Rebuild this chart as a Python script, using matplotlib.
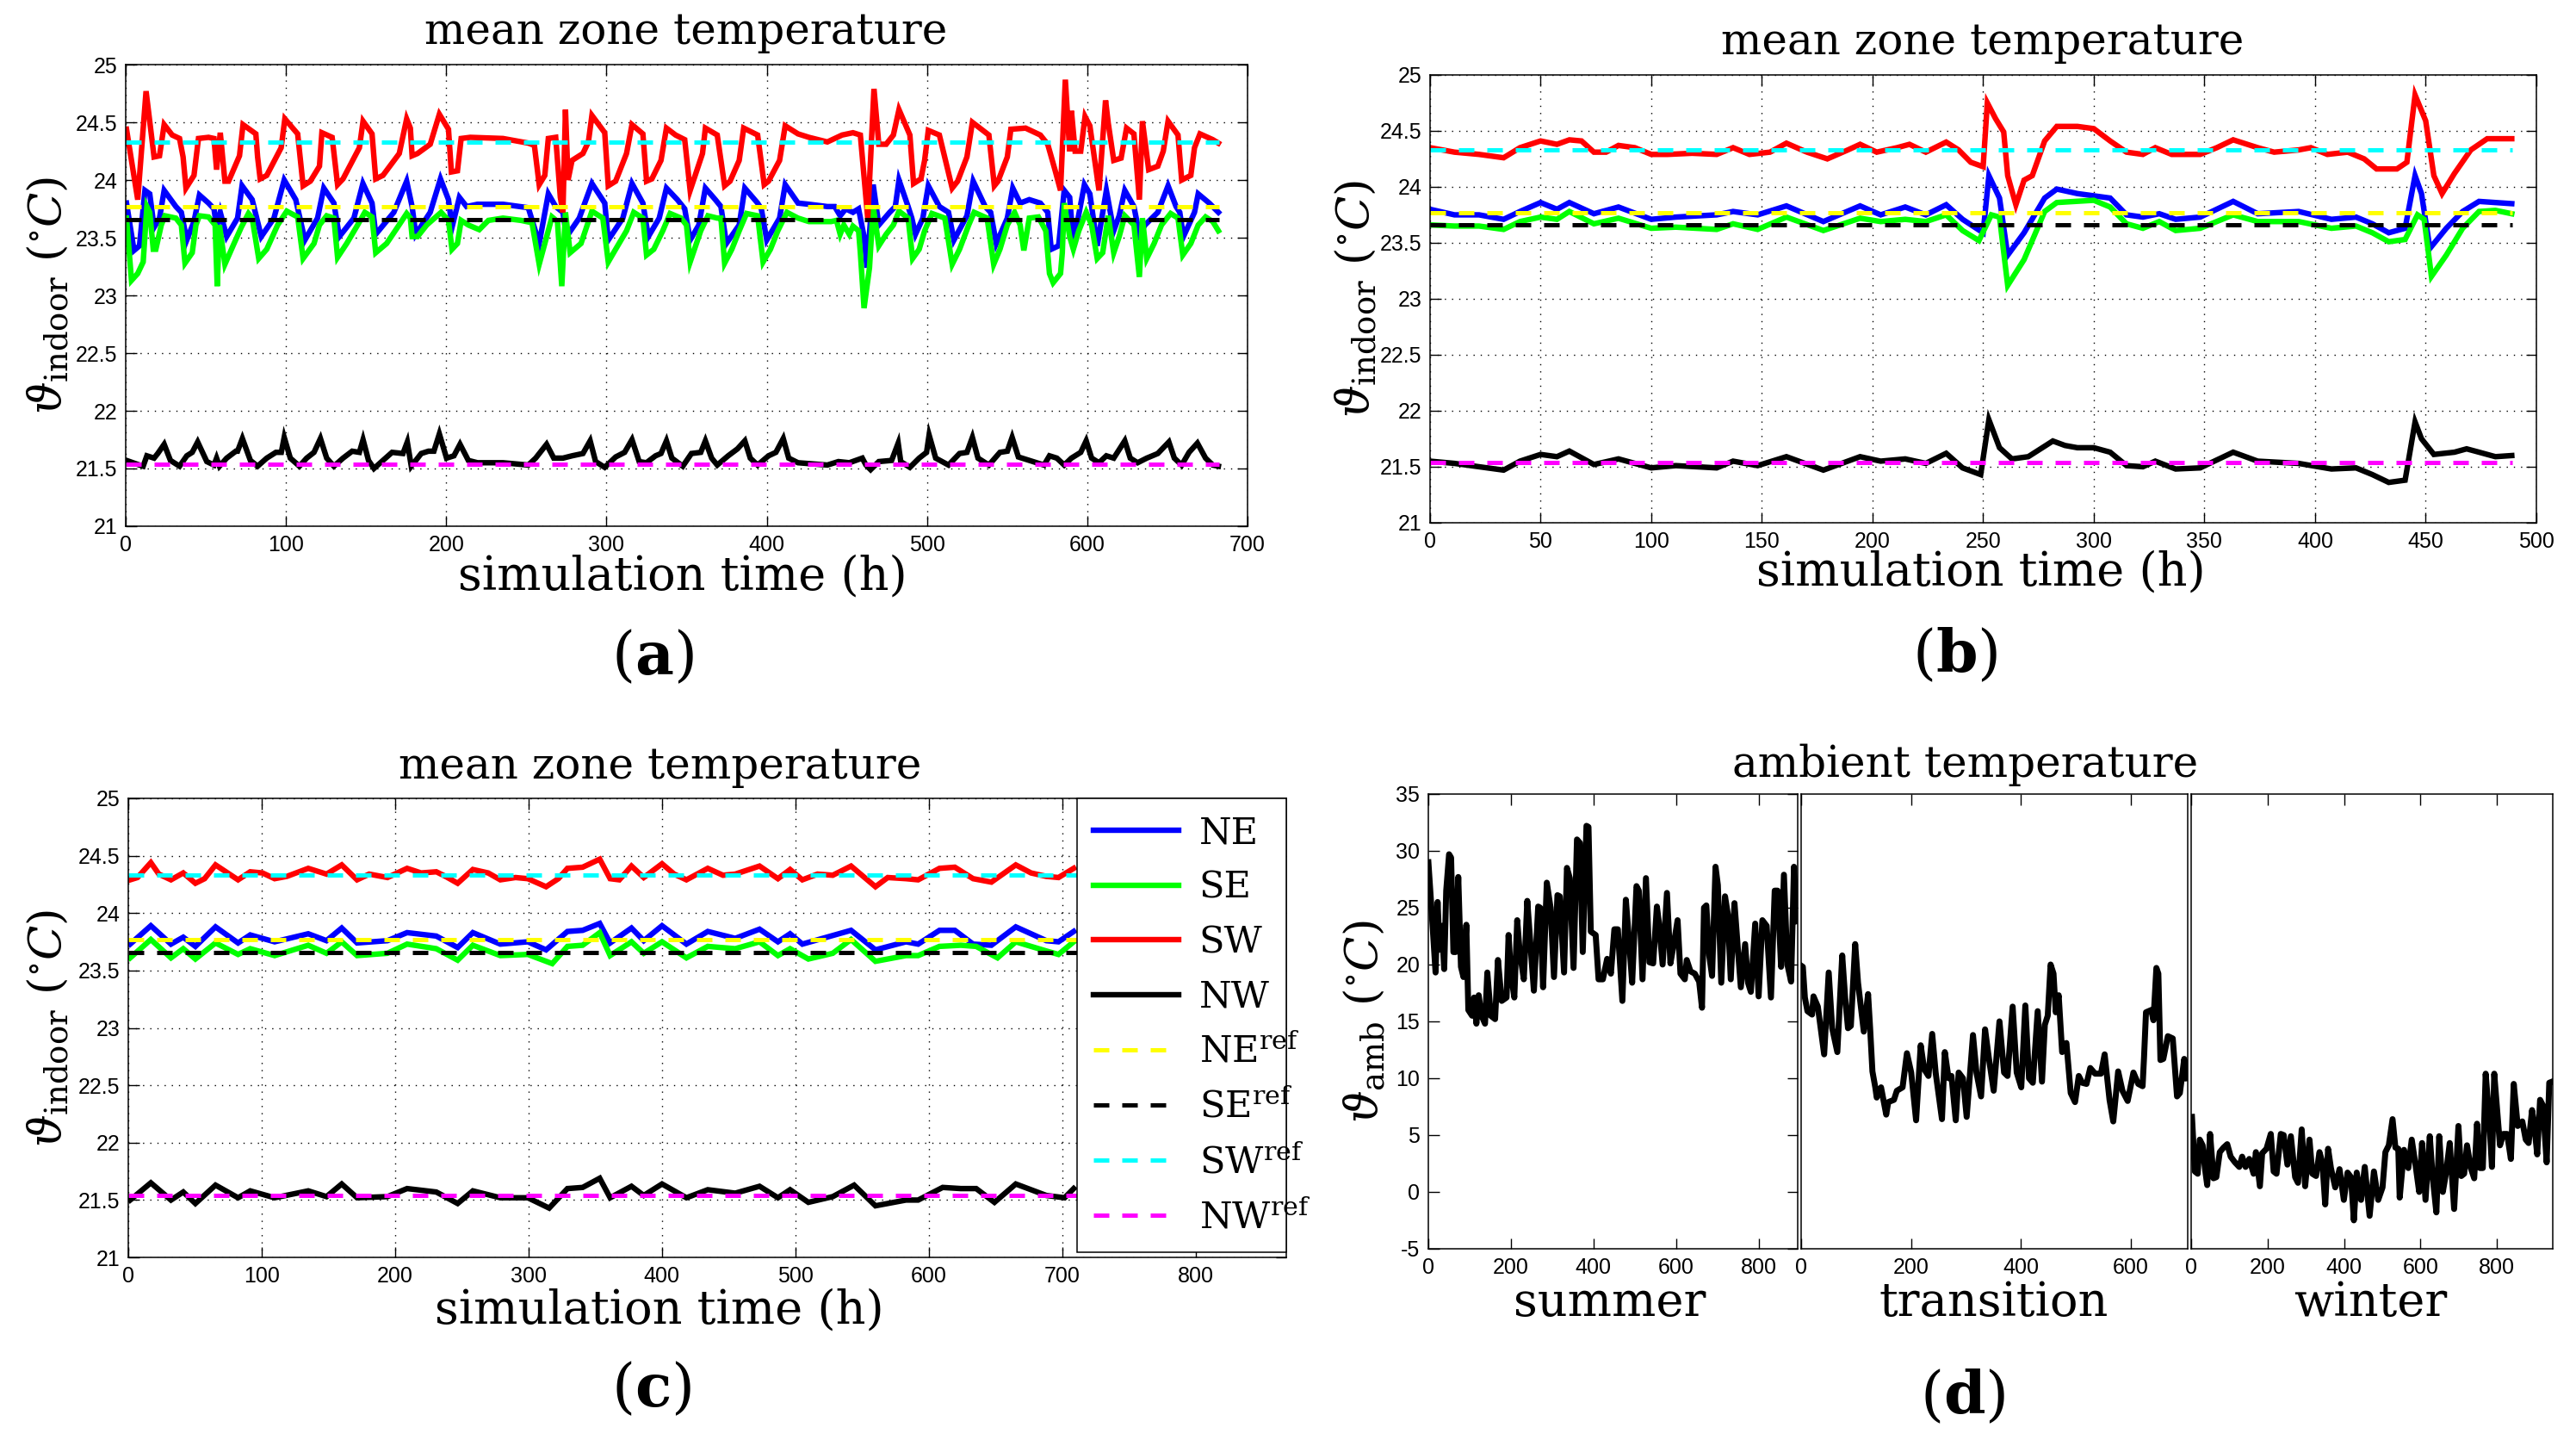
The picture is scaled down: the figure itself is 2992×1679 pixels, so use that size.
import matplotlib.pyplot as plt
from matplotlib.lines import Line2D

# ---------------------------------------------------------------------------
# values: (simulation time in h, temperature)
# ---------------------------------------------------------------------------

zone_names = ["NE", "SE", "SW", "NW"]
ref_levels = [23.77, 23.66, 24.33, 21.54]      # NE_ref, SE_ref, SW_ref, NW_ref

# panel (a)
a_end = 682
a_ne = [(0.5, 23.8), (5.2, 23.39), (8.6, 23.43), (12, 23.91), (15, 23.88), (17.7, 23.59), (21.1, 23.67),
        (24, 23.91), (31.3, 23.77), (34.7, 23.72), (38.1, 23.48), (42.6, 23.64), (46, 23.87), (51.7, 23.8),
        (55.1, 23.75), (56.7, 23.59), (59, 23.72), (63, 23.51), (69.8, 23.67), (72.6, 23.95), (78.9, 23.83),
        (84.6, 23.51), (92.5, 23.67), (98.9, 24.0), (106.1, 23.83), (111.8, 23.48), (119.7, 23.67),
        (123.6, 23.93), (129.9, 23.8), (133.3, 23.51), (142.4, 23.67), (148, 23.97), (153.7, 23.8),
        (156, 23.53), (167.3, 23.72), (175.3, 23.99), (178.7, 23.77), (181, 23.53), (190, 23.72),
        (196.4, 24.01), (201.4, 23.83), (203.6, 23.59), (208.2, 23.85), (212.7, 23.77), (219.5, 23.79),
        (235.4, 23.79), (251.2, 23.76), (258, 23.45), (263.7, 23.88), (268.3, 23.77), (272.8, 23.72),
        (275.1, 23.51), (283, 23.67), (290.9, 23.97), (298.9, 23.8), (301.1, 23.48), (310.2, 23.67),
        (315.9, 23.97), (322.7, 23.8), (326.1, 23.51), (332.9, 23.67), (337.4, 23.93), (344.2, 23.83),
        (348.8, 23.75), (352.2, 23.48), (357.6, 23.61), (361.7, 23.93), (367.9, 23.83), (371.4, 23.77),
        (374.8, 23.45), (382.8, 23.61), (386.3, 23.93), (394.3, 23.8), (396.6, 23.75), (400, 23.48),
        (408, 23.67), (411.5, 23.96), (419.5, 23.8), (426.3, 23.79), (437.8, 23.77), (442.4, 23.77),
        (445.8, 23.69), (449.3, 23.75), (453.8, 23.72), (457.3, 23.75), (460.7, 23.51), (462.5, 23.24),
        (466.4, 23.96), (469.9, 23.61), (476.7, 23.72), (480.2, 23.77), (482.5, 24.0), (488.2, 23.77),
        (490.5, 23.67), (492.8, 23.53), (497.4, 23.67), (500.8, 23.95), (507.7, 23.77), (513.4, 23.72),
        (516.8, 23.48), (524.9, 23.69), (528.8, 23.99), (536.3, 23.77), (539.7, 23.72), (543.2, 23.45),
        (550.1, 23.67), (553.5, 23.93), (558.1, 23.8), (563.8, 23.83), (570.7, 23.8), (575.3, 23.72),
        (577.5, 23.4), (582.1, 23.43), (585.6, 23.91), (589, 23.85), (591.3, 23.45), (598.2, 23.96),
        (601.6, 23.88), (606.2, 23.43), (611.9, 23.91), (616.5, 23.56), (619.9, 23.69), (623.4, 23.91),
        (629.1, 23.77), (632.5, 23.53), (636, 23.61), (644, 23.72), (650.4, 23.95), (655.4, 23.77),
        (657.7, 23.72), (660, 23.51), (666.9, 23.72), (669.2, 23.88), (676.1, 23.8), (681.8, 23.72)]
a_se = [(0.5, 23.67), (3.6, 23.13), (7.5, 23.19), (10.9, 23.29), (13.2, 23.77), (15, 23.72), (17.2, 23.4),
        (18.8, 23.4), (22.2, 23.61), (24.5, 23.69), (31.3, 23.67), (34.7, 23.61), (37, 23.28), (41.5, 23.37),
        (43.8, 23.61), (46, 23.69), (51.7, 23.68), (55.8, 23.61), (57.1, 23.08), (58.5, 23.61), (61.9, 23.27),
        (67.6, 23.45), (72.1, 23.59), (76.6, 23.71), (78.9, 23.67), (83, 23.32), (88, 23.4), (94.8, 23.61),
        (100.5, 23.73), (107.3, 23.68), (110.7, 23.32), (117.5, 23.45), (120.9, 23.61), (125.4, 23.69),
        (129.9, 23.67), (132.2, 23.33), (137.9, 23.45), (144.7, 23.61), (149.2, 23.72), (153.7, 23.68),
        (156, 23.37), (162.8, 23.45), (169.6, 23.59), (175.3, 23.71), (177.6, 23.67), (178.7, 23.51),
        (182.1, 23.51), (187.8, 23.61), (196.8, 23.72), (201.4, 23.65), (203.6, 23.4), (207, 23.45),
        (209.3, 23.65), (213.8, 23.61), (220.6, 23.57), (226.3, 23.65), (235.4, 23.67), (246.7, 23.65),
        (253.5, 23.63), (258, 23.27), (261.5, 23.45), (266, 23.68), (269.4, 23.64), (272.1, 23.08),
        (274.4, 23.72), (277.3, 23.37), (284.1, 23.45), (287.5, 23.59), (290.9, 23.73), (297.7, 23.67),
        (301.1, 23.29), (305.7, 23.4), (312.5, 23.56), (317, 23.72), (322.7, 23.67), (325, 23.35),
        (329.5, 23.4), (335.1, 23.56), (339.7, 23.71), (346.5, 23.67), (349.9, 23.61), (352.2, 23.29),
        (358.8, 23.56), (363.3, 23.69), (369.1, 23.67), (371.4, 23.67), (373.7, 23.28), (378.2, 23.4),
        (382.8, 23.56), (387.4, 23.71), (394.3, 23.69), (397.7, 23.29), (402.3, 23.4), (406.9, 23.56),
        (412.6, 23.72), (419.5, 23.67), (426.3, 23.64), (440.1, 23.64), (443.5, 23.65), (445.8, 23.53),
        (448.1, 23.61), (451.5, 23.53), (453.8, 23.6), (457.3, 23.56), (458.4, 23.37), (460.7, 22.89),
        (464.1, 23.24), (466.4, 23.77), (469.9, 23.43), (474.5, 23.53), (479, 23.61), (482.5, 23.73),
        (488.2, 23.67), (491, 23.32), (495.1, 23.4), (498.5, 23.56), (503.1, 23.71), (511.1, 23.67),
        (515.7, 23.27), (520.3, 23.4), (526, 23.61), (529.4, 23.72), (537.5, 23.67), (541.6, 23.27),
        (545.5, 23.4), (550.1, 23.61), (554.6, 23.72), (558.1, 23.61), (560.4, 23.39), (563.8, 23.67),
        (569.5, 23.68), (574.1, 23.56), (576.4, 23.19), (578.7, 23.11), (583.3, 23.19), (584.4, 23.37),
        (585.6, 23.8), (589, 23.51), (591.3, 23.4), (594.7, 23.56), (599.3, 23.72), (602.7, 23.61),
        (606.2, 23.32), (609.6, 23.37), (613.1, 23.69), (616.5, 23.37), (619.9, 23.51), (623.4, 23.69),
        (629.1, 23.61), (632.5, 23.16), (634.4, 23.67), (637.1, 23.32), (641.7, 23.45), (646.3, 23.61),
        (652, 23.71), (656.6, 23.67), (659.6, 23.35), (664.6, 23.45), (669.2, 23.61), (673.8, 23.68),
        (678.3, 23.64), (681.8, 23.56)]
a_sw = [(0.5, 24.44), (7.5, 23.83), (12.7, 24.77), (17.7, 24.2), (21.1, 24.21), (24, 24.48), (29, 24.39),
        (33.6, 24.36), (35.8, 24.2), (37.6, 23.93), (42.6, 24.04), (45.4, 24.36), (51.7, 24.37), (55.1, 24.36),
        (56.7, 24.09), (59, 24.41), (61.9, 23.99), (64.2, 23.99), (71, 24.21), (73.2, 24.48), (81.2, 24.4),
        (82.3, 24.2), (83.9, 24.01), (88, 24.04), (97, 24.28), (99.3, 24.53), (107.3, 24.4), (110.7, 23.95),
        (115.2, 23.99), (120.9, 24.12), (122.4, 24.41), (128.8, 24.37), (132.2, 23.96), (135.6, 24.01),
        (145.8, 24.28), (148.1, 24.51), (153.7, 24.4), (156, 24.01), (160.5, 24.04), (170.7, 24.23),
        (175.3, 24.53), (177.6, 24.45), (178.7, 24.21), (182.1, 24.23), (190, 24.31), (195.7, 24.57),
        (201.4, 24.44), (203.2, 24.07), (207, 24.08), (209.3, 24.36), (215, 24.37), (235.4, 24.36),
        (251.2, 24.32), (255, 24.3), (258, 23.96), (261.5, 24.04), (263.7, 24.36), (268.3, 24.37),
        (271.2, 23.85), (272.8, 23.72), (274.4, 24.61), (276, 24.0), (278.5, 24.17), (285.3, 24.23),
        (288.7, 24.33), (290.9, 24.56), (298.9, 24.41), (301.1, 23.95), (305.7, 23.99), (312.5, 24.23),
        (315.9, 24.48), (322.7, 24.4), (325, 23.99), (328.3, 24.01), (334, 24.17), (337.4, 24.45),
        (343.1, 24.39), (348.8, 24.35), (352.2, 23.91), (359.9, 24.23), (361.7, 24.45), (369.1, 24.39),
        (373.7, 23.95), (377.1, 23.99), (382.8, 24.17), (385.6, 24.45), (394.3, 24.39), (398.4, 23.96),
        (401.1, 23.99), (408, 24.17), (411.5, 24.47), (419.5, 24.4), (426.3, 24.37), (437.8, 24.33),
        (447, 24.39), (453.8, 24.41), (458.4, 24.39), (463, 23.67), (466.9, 24.79), (469.9, 24.31),
        (474.5, 24.31), (479, 24.39), (482.5, 24.61), (489.3, 24.39), (491.6, 23.97), (496.2, 24.01),
        (498.5, 24.17), (500.8, 24.43), (507.7, 24.39), (515.7, 23.93), (519.1, 23.99), (524.9, 24.2),
        (528.3, 24.5), (538.6, 24.39), (542, 23.95), (544.3, 23.99), (550.1, 24.2), (552.3, 24.44),
        (561.5, 24.45), (570.7, 24.39), (575.3, 24.31), (579.8, 24.09), (583.3, 23.91), (586.3, 24.87),
        (589, 24.25), (590.1, 24.6), (592.4, 24.25), (595.9, 24.25), (598.6, 24.55), (601.6, 24.47),
        (607.3, 23.91), (611.4, 24.69), (613.1, 24.49), (616.5, 24.17), (621.1, 24.19), (624.5, 24.45),
        (629.1, 24.4), (632.5, 23.83), (634.4, 24.51), (638.3, 24.09), (644, 24.12), (647.4, 24.25),
        (650.4, 24.51), (656.6, 24.39), (658.9, 24.0), (664.6, 24.04), (666.9, 24.28), (670.3, 24.4),
        (678.3, 24.35), (681.8, 24.32)]
a_nw = [(0.5, 21.57), (8.6, 21.53), (10.9, 21.52), (13.2, 21.61), (17.7, 21.59), (20, 21.63), (24, 21.71),
        (27.9, 21.57), (33.6, 21.52), (38.1, 21.61), (41.5, 21.64), (44.9, 21.73), (50.6, 21.56),
        (55.1, 21.53), (56.7, 21.59), (58.5, 21.52), (63, 21.59), (68.7, 21.65), (69.8, 21.65), (72.8, 21.76),
        (77.8, 21.57), (82.3, 21.52), (88, 21.59), (93.7, 21.64), (97.1, 21.64), (98.9, 21.77), (102.7, 21.59),
        (108.4, 21.52), (112.9, 21.59), (117.5, 21.64), (121.5, 21.76), (125.4, 21.59), (129.9, 21.52),
        (135.6, 21.59), (141.3, 21.65), (145.8, 21.64), (148.1, 21.75), (151.5, 21.57), (154.9, 21.5),
        (160.5, 21.57), (166.2, 21.64), (173, 21.63), (175.7, 21.73), (178.2, 21.52), (184.4, 21.63),
        (188.9, 21.65), (192.3, 21.65), (195.7, 21.8), (200.2, 21.59), (204.8, 21.61), (208.6, 21.71),
        (213.8, 21.57), (219.5, 21.55), (235.4, 21.55), (251.2, 21.53), (255.8, 21.59), (262.6, 21.71),
        (267.1, 21.59), (272.8, 21.59), (278.5, 21.61), (285.3, 21.63), (289.8, 21.74), (293.2, 21.56),
        (298.9, 21.51), (305.7, 21.6), (311.3, 21.64), (315.9, 21.75), (320.4, 21.56), (324.9, 21.55),
        (330.6, 21.61), (334, 21.63), (337.4, 21.74), (340.8, 21.59), (347.6, 21.52), (353, 21.63),
        (358.8, 21.64), (361.7, 21.74), (365.6, 21.59), (369.1, 21.53), (375.9, 21.61), (381.7, 21.67),
        (386.3, 21.74), (389.7, 21.59), (394.3, 21.53), (401.1, 21.61), (405.7, 21.64), (410.3, 21.76),
        (413.7, 21.59), (419.5, 21.55), (428.6, 21.54), (437.8, 21.53), (444.7, 21.56), (451.5, 21.55),
        (459.6, 21.59), (461.9, 21.53), (464.8, 21.49), (469.9, 21.56), (477.9, 21.57), (482, 21.72),
        (483.6, 21.56), (489.3, 21.51), (495.1, 21.59), (499.7, 21.64), (501.3, 21.79), (505.4, 21.59),
        (513.4, 21.53), (520.3, 21.63), (524.9, 21.64), (528.3, 21.77), (531.8, 21.59), (538.6, 21.53),
        (545.5, 21.64), (550.1, 21.65), (553.1, 21.77), (557, 21.6), (566.1, 21.56), (573, 21.53),
        (576.4, 21.61), (581, 21.59), (585.6, 21.53), (590.1, 21.59), (595.9, 21.64), (599.3, 21.74),
        (602.7, 21.59), (607.3, 21.55), (611.9, 21.61), (616.5, 21.59), (623.4, 21.74), (626.8, 21.59),
        (631.4, 21.55), (637.1, 21.59), (644, 21.63), (650.9, 21.73), (654.3, 21.59), (658.9, 21.53),
        (663.5, 21.64), (668.7, 21.72), (673.8, 21.59), (678.3, 21.53), (681.8, 21.52)]

# panel (b)
b_end = 489
b_ne = [(0, 23.8), (11.1, 23.75), (22.2, 23.75), (33.3, 23.71), (40.7, 23.78), (50, 23.86), (57.4, 23.8),
        (63, 23.86), (74.1, 23.76), (85.2, 23.82), (100, 23.71), (111.1, 23.73), (129.6, 23.75), (137, 23.78),
        (148.1, 23.75), (161.1, 23.83), (177.8, 23.69), (194.4, 23.83), (203.7, 23.75), (214.8, 23.82),
        (224.1, 23.75), (233.3, 23.84), (240.7, 23.71), (250, 23.59), (252.6, 24.1), (257.4, 23.9),
        (261.1, 23.39), (268.5, 23.59), (277.8, 23.9), (283.3, 23.98), (292.6, 23.94), (307.4, 23.9),
        (314.8, 23.75), (322.2, 23.73), (329.6, 23.76), (337, 23.71), (348.1, 23.73), (363, 23.87),
        (374.1, 23.76), (392.6, 23.78), (407.4, 23.71), (418.5, 23.73), (425.9, 23.67), (433.3, 23.59),
        (440.7, 23.63), (445.2, 24.1), (448.1, 23.94), (451.9, 23.45), (459.3, 23.63), (466.7, 23.78),
        (474.1, 23.87), (481.5, 23.86), (488.9, 23.85)]
b_se = [(0, 23.66), (11.1, 23.65), (22.2, 23.65), (33.3, 23.62), (40.7, 23.69), (50, 23.73), (57.4, 23.71),
        (63, 23.78), (74.1, 23.67), (85.2, 23.72), (100, 23.63), (111.1, 23.64), (129.6, 23.62), (137, 23.67),
        (148.1, 23.62), (161.1, 23.73), (177.8, 23.61), (194.4, 23.72), (203.7, 23.69), (214.8, 23.71),
        (224.1, 23.69), (233.3, 23.75), (240.7, 23.61), (248.1, 23.52), (253.7, 23.75), (257.4, 23.73),
        (261.1, 23.12), (268.5, 23.35), (277.8, 23.78), (283.3, 23.86), (300, 23.88), (307.4, 23.82),
        (314.8, 23.67), (322.2, 23.63), (329.6, 23.69), (337, 23.61), (348.1, 23.63), (363, 23.75),
        (374.1, 23.69), (392.6, 23.69), (407.4, 23.63), (418.5, 23.65), (425.9, 23.59), (433.3, 23.51),
        (440.7, 23.53), (446.3, 23.75), (449.3, 23.71), (452.6, 23.2), (459.3, 23.39), (466.7, 23.63),
        (474.1, 23.78), (481.5, 23.79), (488.9, 23.76)]
b_sw = [(0, 24.35), (5.6, 24.33), (11.1, 24.31), (22.2, 24.29), (33.3, 24.26), (40.7, 24.35), (50, 24.41),
        (57.4, 24.38), (63, 24.42), (68.5, 24.41), (74.1, 24.31), (79.6, 24.31), (85.2, 24.37), (92.6, 24.35),
        (100, 24.29), (107.4, 24.29), (118.5, 24.3), (129.6, 24.29), (137, 24.35), (144.4, 24.29),
        (153.7, 24.31), (161.1, 24.39), (170.4, 24.31), (179.6, 24.25), (188.9, 24.33), (194.4, 24.38),
        (201.9, 24.31), (211.1, 24.35), (216.7, 24.38), (224.1, 24.31), (233.3, 24.4), (238.9, 24.33),
        (244.4, 24.22), (250, 24.18), (251.9, 24.75), (255.6, 24.61), (259.3, 24.49), (261.1, 24.1),
        (264.8, 23.84), (268.5, 24.06), (272.2, 24.1), (277.8, 24.41), (283.3, 24.54), (292.6, 24.54),
        (300, 24.52), (307.4, 24.41), (314.8, 24.31), (322.2, 24.29), (327.8, 24.35), (335.2, 24.29),
        (348.1, 24.29), (355.6, 24.35), (363, 24.42), (374.1, 24.35), (381.5, 24.31), (392.6, 24.33),
        (398.1, 24.35), (405.6, 24.29), (414.8, 24.31), (422.2, 24.25), (427.8, 24.16), (437, 24.16),
        (441.5, 24.22), (445.2, 24.82), (450, 24.59), (453.7, 24.1), (457.4, 23.94), (463, 24.12),
        (470.4, 24.33), (477.8, 24.43), (488.9, 24.43)]
b_nw = [(0, 21.55), (11.1, 21.53), (22.2, 21.5), (33.3, 21.47), (40.7, 21.55), (50, 21.61), (57.4, 21.59),
        (63, 21.64), (74.1, 21.52), (85.2, 21.57), (100, 21.49), (111.1, 21.51), (129.6, 21.49), (137, 21.55),
        (148.1, 21.51), (161.1, 21.59), (177.8, 21.47), (194.4, 21.59), (203.7, 21.55), (214.8, 21.57),
        (224.1, 21.53), (233.3, 21.62), (240.7, 21.49), (248.9, 21.43), (252.6, 21.92), (257.4, 21.67),
        (263, 21.57), (270.4, 21.59), (281.5, 21.73), (287, 21.69), (292.6, 21.67), (300, 21.67),
        (307.4, 21.63), (314.8, 21.51), (322.2, 21.5), (327.8, 21.55), (337, 21.48), (348.1, 21.49),
        (363, 21.63), (374.1, 21.55), (392.6, 21.53), (407.4, 21.48), (418.5, 21.49), (425.9, 21.43),
        (433.3, 21.36), (440.7, 21.38), (445.2, 21.9), (448.1, 21.75), (453.7, 21.61), (463, 21.63),
        (468.5, 21.66), (474.1, 21.63), (481.5, 21.59), (488.9, 21.6)]

# panel (c)
c_end = 711
c_ne = [(1.4, 23.73), (16.9, 23.89), (32, 23.73), (41.2, 23.79), (50.3, 23.71), (65.4, 23.88), (82.3, 23.74),
        (91.4, 23.81), (109.7, 23.75), (134.9, 23.82), (148.6, 23.76), (160, 23.87), (171.5, 23.74),
        (194.3, 23.76), (209, 23.83), (230.9, 23.8), (246.9, 23.7), (258.3, 23.83), (278.9, 23.73),
        (299.5, 23.75), (313.2, 23.68), (329.2, 23.84), (340.6, 23.85), (353.4, 23.91), (361.2, 23.74),
        (377.2, 23.87), (386.4, 23.76), (400.1, 23.89), (418.4, 23.73), (434.4, 23.84), (455, 23.78),
        (473.2, 23.86), (487, 23.75), (496.1, 23.82), (505.3, 23.73), (541.8, 23.85), (560.1, 23.68),
        (583, 23.75), (592.1, 23.73), (608.1, 23.85), (619.6, 23.85), (633.3, 23.73), (647, 23.72),
        (665.3, 23.88), (688.2, 23.76), (697.3, 23.75), (708.7, 23.84)]
c_se = [(1.4, 23.61), (16.9, 23.77), (32, 23.61), (41.2, 23.69), (50.3, 23.6), (65.4, 23.74), (82.3, 23.64),
        (91.4, 23.69), (109.7, 23.63), (134.9, 23.72), (148.6, 23.65), (160, 23.75), (171.5, 23.63),
        (194.3, 23.65), (209, 23.73), (230.9, 23.69), (246.9, 23.59), (258.3, 23.72), (278.9, 23.63),
        (299.5, 23.64), (317.8, 23.56), (329.2, 23.71), (340.6, 23.72), (353.4, 23.83), (361.2, 23.63),
        (377.2, 23.75), (386.4, 23.65), (400.1, 23.75), (418.4, 23.61), (434.4, 23.71), (455, 23.69),
        (473.2, 23.75), (487, 23.63), (496.1, 23.69), (509.8, 23.6), (528.1, 23.65), (541.8, 23.77),
        (560.1, 23.58), (583, 23.63), (592.1, 23.63), (608.1, 23.71), (624.1, 23.72), (635.6, 23.71),
        (651.6, 23.61), (665.3, 23.75), (688.2, 23.67), (697.3, 23.64), (708.7, 23.75)]
c_sw = [(1.4, 24.29), (6.9, 24.31), (16.9, 24.44), (22.9, 24.34), (32, 24.29), (41.2, 24.35), (50.3, 24.26),
        (57.2, 24.3), (65.4, 24.42), (73.2, 24.36), (82.3, 24.29), (91.4, 24.36), (100.6, 24.35), (109.7, 24.3),
        (118.9, 24.32), (134.9, 24.39), (148.6, 24.34), (160, 24.42), (171.5, 24.29), (180.6, 24.34),
        (194.3, 24.31), (209, 24.39), (219.5, 24.35), (230.9, 24.36), (237.8, 24.32), (246.9, 24.26),
        (258.3, 24.38), (269.8, 24.35), (278.9, 24.29), (290.3, 24.31), (299.5, 24.3), (313.2, 24.23),
        (322.4, 24.3), (329.2, 24.39), (340.6, 24.4), (353.4, 24.47), (361.2, 24.3), (368.1, 24.29),
        (377.2, 24.41), (386.4, 24.31), (400.1, 24.43), (409.2, 24.34), (418.4, 24.29), (434.4, 24.39),
        (445.8, 24.33), (455, 24.34), (473.2, 24.41), (487, 24.3), (496.1, 24.38), (505.3, 24.29),
        (516.7, 24.34), (528.1, 24.33), (541.8, 24.41), (560.1, 24.23), (569.3, 24.31), (583, 24.3),
        (592.1, 24.29), (608.1, 24.39), (619.6, 24.4), (633.3, 24.3), (647, 24.27), (665.3, 24.42),
        (676.7, 24.35), (688.2, 24.32), (697.3, 24.31), (708.7, 24.39)]
c_nw = [(1.4, 21.5), (16.9, 21.65), (32, 21.5), (41.2, 21.57), (50.3, 21.47), (65.4, 21.63), (82.3, 21.52),
        (91.4, 21.58), (109.7, 21.52), (134.9, 21.58), (148.6, 21.53), (160, 21.64), (171.5, 21.52),
        (194.3, 21.53), (209, 21.6), (230.9, 21.57), (246.9, 21.47), (258.3, 21.58), (278.9, 21.52),
        (299.5, 21.52), (315.5, 21.43), (329.2, 21.6), (340.6, 21.61), (353.4, 21.69), (361.2, 21.52),
        (377.2, 21.62), (386.4, 21.54), (400.1, 21.64), (418.4, 21.52), (434.4, 21.59), (455, 21.56),
        (473.2, 21.62), (487, 21.52), (496.1, 21.59), (509.8, 21.48), (528.1, 21.53), (544.1, 21.63),
        (560.1, 21.45), (583, 21.5), (592.1, 21.5), (610.5, 21.61), (624.1, 21.6), (635.6, 21.6),
        (649.3, 21.48), (665.3, 21.64), (688.2, 21.54), (701.9, 21.52), (708.7, 21.6)]

# panel (d): ambient temperature, three seasons
season_names = ["summer", "transition", "winter"]
season_xmax = [895, 704, 946]
d_summer = [(0, 29.0), (8.4, 24.4), (17.4, 19.3), (22.3, 25.5), (27.2, 21.3), (32.7, 23.4), (38.3, 19.6),
            (43.2, 26.5), (50.1, 29.7), (55, 29.4), (60.6, 21.1), (66.2, 21.1), (72.4, 27.7), (78.9, 19.8),
            (85, 18.9), (91.9, 23.5), (96.8, 16.0), (105.8, 15.5), (110.7, 17.1), (116.3, 14.8), (121.9, 17.3),
            (128.8, 15.5), (137.2, 14.8), (142.8, 19.3), (151.1, 15.5), (161.6, 15.2), (168.5, 20.4),
            (177.6, 16.8), (189.4, 17.1), (194.3, 22.6), (199.9, 19.2), (208.2, 17.1), (215.2, 23.9),
            (220.8, 21.3), (231.2, 18.7), (239.6, 25.6), (247.2, 21.8), (255.6, 17.7), (266, 25.1),
            (270.9, 25.0), (277.9, 18.0), (286.9, 27.2), (296, 25.0), (304.3, 18.9), (312.7, 26.1),
            (318.3, 26.0), (328.7, 19.3), (335.7, 28.5), (342.6, 27.6), (351.7, 19.7), (360, 31.0),
            (367, 30.7), (374, 21.1), (383, 32.2), (387.9, 32.1), (393.5, 22.9), (405.3, 22.6), (412.3, 18.7),
            (422.7, 18.7), (433.1, 20.5), (442.2, 19.2), (450.6, 23.1), (459, 23.1), (470, 16.8), (478.4, 25.7),
            (486.8, 21.8), (493.7, 18.4), (504.2, 26.9), (509.8, 26.5), (518.8, 18.7), (527.1, 27.6),
            (535.5, 20.2), (544.6, 20.1), (553.6, 25.1), (558.5, 23.7), (567.5, 20.0), (578, 26.3),
            (586.4, 20.1), (596.8, 22.3), (603.8, 23.9), (610.7, 19.2), (621.2, 18.7), (626, 20.4),
            (635, 19.4), (645.5, 19.2), (656, 18.5), (662.9, 16.2), (667.8, 25.0), (673.4, 25.2), (680.4, 20.8),
            (687.3, 19.0), (695.7, 28.6), (701.3, 27.0), (709.6, 18.4), (718.7, 26.0), (725.6, 24.4),
            (732.6, 18.7), (741.6, 25.4), (750, 21.3), (757, 18.0), (767.4, 21.8), (774.4, 18.4), (781.3, 17.6),
            (791.8, 23.6), (800.1, 17.2), (809.2, 23.9), (819.6, 23.4), (830, 17.1), (839.1, 26.5),
            (846.1, 26.5), (854.5, 19.8), (861.4, 27.9), (869.8, 20.0), (878.8, 18.5), (885.8, 28.6),
            (892.7, 23.8)]
d_transition = [(0, 19.9), (3.1, 19.8), (6.8, 17.1), (11.5, 15.9), (19.9, 15.6), (22.5, 17.2), (30.4, 16.3),
                (41.9, 12.1), (50.2, 19.3), (56.5, 14.4), (65.9, 12.3), (74.8, 20.8), (80.1, 17.1), (85.3, 14.4),
                (90.5, 14.6), (98.4, 21.8), (103.6, 18.4), (114.1, 14.1), (121.9, 17.4), (125.6, 14.4),
                (129.8, 10.6), (135, 9.2), (137.6, 8.3), (145.5, 9.2), (154.9, 6.8), (158.6, 7.9), (169, 8.1),
                (174.3, 8.9), (184.7, 9.2), (192.6, 12.2), (200.4, 10.5), (209.3, 6.3), (217.7, 12.9),
                (224, 10.8), (231.8, 10.2), (238.6, 13.9), (244.9, 10.5), (256.4, 6.4), (261.6, 12.3),
                (268.4, 10.0), (273.7, 10.2), (281.5, 6.3), (286.8, 10.5), (294.6, 10.0), (301.4, 6.6),
                (312.9, 13.8), (319.2, 10.5), (327.6, 8.4), (334.9, 14.3), (341.7, 11.8), (350.6, 8.9),
                (361.1, 15.0), (369.5, 10.5), (375.8, 10.2), (385.1, 16.3), (392.5, 10.5), (400.8, 9.2),
                (408.2, 16.4), (414.9, 10.0), (421.8, 9.6), (430.7, 15.9), (438.5, 9.7), (443.7, 14.7),
                (449, 15.5), (454.2, 20.0), (459.5, 19.2), (463.6, 15.8), (468.9, 17.3), (475.2, 12.3),
                (483, 13.1), (490.8, 8.7), (498.7, 7.9), (505.5, 10.2), (511.8, 9.6), (519.6, 9.5), (526.4, 10.9),
                (535.3, 10.4), (545.8, 10.4), (552.6, 12.1), (561.5, 8.1), (568.3, 6.2), (577.2, 10.6),
                (585, 8.9), (594.5, 8.0), (605, 10.5), (613.8, 9.5), (621.7, 9.3), (624.3, 11.8), (627.9, 15.8),
                (637.4, 16.0), (641.5, 15.1), (646.8, 19.7), (650.4, 19.2), (654.2, 11.6), (659.4, 11.7),
                (667.7, 13.7), (676.6, 13.5), (684.4, 8.4), (689.6, 8.7), (697.5, 11.7), (702.8, 10.0)]
d_winter = [(2.2, 6.6), (9.7, 1.8), (17.2, 1.6), (22.5, 4.6), (30, 4.1), (36, 2.1), (42, 0.6), (49.5, 5.1),
            (54.7, 2.9), (58.4, 1.2), (65.9, 1.3), (74.9, 3.5), (84.7, 3.9), (94.4, 4.2), (103.4, 3.1),
            (114.6, 2.6), (125.9, 2.2), (133.4, 3.1), (142.4, 2.2), (152.1, 2.9), (163.4, 1.6), (169.4, 3.5),
            (179.8, 0.5), (185.8, 3.4), (197.1, 3.8), (208.3, 5.1), (215.8, 1.8), (223.3, 1.6), (234.5, 5.1),
            (242, 5.0), (251.8, 2.4), (260.8, 4.9), (272, 1.3), (279.5, 0.8), (289.2, 5.5), (298.2, 0.5),
            (309.5, 4.6), (317, 1.6), (326.7, 1.4), (335.7, 3.5), (343.2, 2.6), (350.7, -1.1), (358.2, 3.8),
            (365.6, 2.1), (376.9, 0.4), (388.1, 2.0), (399.4, -0.7), (409.1, 1.7), (418.1, 1.3), (425.6, -2.5),
            (433.1, 1.7), (444.4, -0.7), (454.1, 2.2), (466.8, -2.1), (478.1, 1.8), (489.3, -0.7), (500.6, 0.4),
            (508.1, 3.5), (517, 4.1), (526.8, 6.4), (534.3, 3.9), (541.8, 3.8), (545.5, -0.5), (556.8, 3.7),
            (568, 2.1), (577, 4.6), (586.8, 2.4), (596.5, 0.0), (604, 4.3), (613, -0.7), (624.2, 4.9),
            (631.7, 1.3), (641.4, -1.8), (648.9, 4.9), (658.3, 0.0), (666.9, 1.7), (676.4, 4.3), (687.9, -1.5),
            (699.1, 5.8), (706.6, 1.4), (714.1, 1.6), (721.6, 4.1), (731.4, 2.1), (740.4, 1.2), (747.8, 6.0),
            (755.4, 2.1), (762.9, 2.1), (770.4, 10.4), (779.4, 6.6), (786.8, 2.2), (792.8, 10.4), (801.8, 6.6),
            (807.8, 4.1), (816.8, 5.1), (826.5, 5.1), (836.3, 2.9), (843.8, 9.5), (854.2, 5.8), (866.2, 6.2),
            (875.2, 4.6), (882.7, 4.3), (891.7, 7.2), (897.7, 5.8), (905.2, 3.3), (912.7, 8.1), (920.2, 7.6),
            (929.9, 2.6), (936.7, 9.6), (944.2, 9.7)]

# ---------------------------------------------------------------------------
SERIF = "DejaVu Serif"
SANS = "Liberation Sans"
plt.rcParams["font.family"] = SANS
plt.rcParams["mathtext.fontset"] = "dejavuserif"

zone_colors = ["#0000ff", "#00ff00", "#ff0000", "#000000"]
ref_colors = ["#ffff00", "#000000", "#00ffff", "#ff00ff"]
LW_ZONE = 4.6
LW_REF = 3.6
REF_DASH = (3.6, 3.0)
TICK_FS = 18
TITLE_FS = 36
LABEL_FS = 39
TAG_FS = 50
YLAB_FS = 38

fig = plt.figure(figsize=(29.92, 16.79), dpi=100)


def xy(pts):
    return [p[0] for p in pts], [p[1] for p in pts]


def style_axes(ax):
    ax.tick_params(direction="in", top=True, right=True, length=9, width=1,
                   labelsize=TICK_FS, pad=7)
    for s in ax.spines.values():
        s.set_linewidth(1.1)


def zone_panel(rect, series, t_end, xmax, xticks):
    ax = fig.add_axes(rect)
    for pts, col in zip(series, zone_colors):
        t, v = xy(pts)
        ax.plot(t, v, color=col, lw=LW_ZONE, solid_joinstyle="miter")
    for lev, col in zip(ref_levels, ref_colors):
        ax.plot([0, t_end], [lev, lev], color=col, lw=LW_REF, dashes=REF_DASH)
    ax.set_xlim(0, xmax)
    ax.set_ylim(21, 25)
    yt = [21, 21.5, 22, 22.5, 23, 23.5, 24, 24.5, 25]
    ax.set_yticks(yt, labels=[f"{v:g}" for v in yt])
    ax.set_xticks(xticks, labels=[f"{v:g}" for v in xticks])
    ax.grid(True, color="k", linestyle=(0, (1, 5)), linewidth=1.0)
    style_axes(ax)
    return ax


ylab_zone = r"$\vartheta_{\mathrm{indoor}}\ (^{\circ}C)$"

# (a)
ax_a = zone_panel([0.0488, 0.6361, 0.4355, 0.3192], [a_ne, a_se, a_sw, a_nw],
                  a_end, 700, range(0, 701, 100))
# (b)
ax_b = zone_panel([0.5551, 0.6385, 0.4295, 0.3097], [b_ne, b_se, b_sw, b_nw],
                  b_end, 500, range(0, 501, 50))
# (c)
ax_c = zone_panel([0.0498, 0.1304, 0.4495, 0.3175], [c_ne, c_se, c_sw, c_nw],
                  c_end, 868, range(0, 801, 100))

handles = [Line2D([], [], color=c, lw=LW_ZONE) for c in zone_colors]
handles += [Line2D([], [], color=c, lw=LW_REF, dashes=REF_DASH) for c in ref_colors]
labels = zone_names + [n + r"$^{\mathrm{ref}}$" for n in zone_names]
x0 = (711 / 868)
leg = ax_c.legend(handles, labels, loc="upper left", bbox_to_anchor=(x0, 0, 1 - x0, 1),
                  mode="expand", borderaxespad=0, fancybox=False, framealpha=1,
                  edgecolor="k", handlelength=2.3, handletextpad=0.55,
                  labelspacing=0.5, borderpad=0.45,
                  prop={"family": SERIF, "size": 31})
leg.get_frame().set_linewidth(1.1)

# (d)
d_rects = [[0.5545, 0.1364, 0.1434, 0.3145],
           [0.6992, 0.1364, 0.1501, 0.3145],
           [0.8506, 0.1364, 0.1404, 0.3145]]
d_series = [d_summer, d_transition, d_winter]
d_axes = []
for i, (rect, pts, name, xm) in enumerate(zip(d_rects, d_series, season_names, season_xmax)):
    ax = fig.add_axes(rect)
    t, v = xy(pts)
    ax.plot(t, v, color="k", lw=5)
    ax.set_xlim(0, xm)
    ax.set_ylim(-5, 35)
    xt = list(range(0, xm + 1, 200))
    ax.set_xticks(xt, labels=[f"{v:g}" for v in xt])
    style_axes(ax)
    if i == 0:
        yt = list(range(-5, 36, 5))
        ax.set_yticks(yt, labels=[f"{v:g}" for v in yt])
    else:
        ax.set_yticks([])
    d_axes.append(ax)

# ---- texts --------------------------------------------------------------
W, H = 2992, 1679


def ftext(x, y, s, size, **kw):
    fig.text(x / W, 1 - y / H, s, ha="center", va="center", fontsize=size,
             family=SERIF, **kw)


ftext(797, 37, "mean zone temperature", TITLE_FS)
ftext(2303, 49, "mean zone temperature", TITLE_FS)
ftext(767, 890, "mean zone temperature", TITLE_FS)
ftext(2283, 888, "ambient temperature", TITLE_FS)

ftext(793, 670, "simulation time (h)", LABEL_FS)
ftext(2301, 665, "simulation time (h)", LABEL_FS)
ftext(766, 1522, "simulation time (h)", LABEL_FS)
ftext(1870, 1513, "summer", LABEL_FS)
ftext(2316, 1513, "transition", LABEL_FS)
ftext(2753, 1513, "winter", LABEL_FS)

ftext(56, 343, ylab_zone, YLAB_FS, rotation=90)
ftext(1575, 347, ylab_zone, YLAB_FS, rotation=90)
ftext(56, 1194, ylab_zone, YLAB_FS, rotation=90)
ftext(1585, 1186, r"$\vartheta_{\mathrm{amb}}\ (^{\circ}C)$", YLAB_FS, rotation=90)

ftext(758, 763, r"$(\mathbf{a})$", TAG_FS)
ftext(2271, 761, r"$(\mathbf{b})$", TAG_FS)
ftext(757, 1613, r"$(\mathbf{c})$", TAG_FS)
ftext(2280, 1622, r"$(\mathbf{d})$", TAG_FS)

fig.savefig("out.png", dpi=100)
